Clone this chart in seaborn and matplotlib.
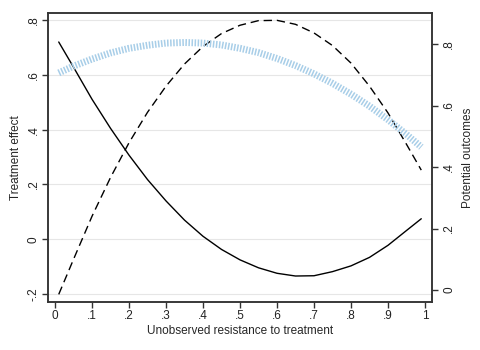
import matplotlib
matplotlib.use("Agg")
import matplotlib.pyplot as plt
import seaborn as sns
import pandas as pd

# Unobserved resistance to treatment (x)
u = [0.01, 0.05, 0.10, 0.15, 0.20, 0.25, 0.30, 0.35, 0.40, 0.45, 0.50,
     0.55, 0.60, 0.65, 0.70, 0.75, 0.80, 0.85, 0.90, 0.95, 0.99]

# Treatment effect (left axis, solid)
treatment_effect = [0.720, 0.628, 0.511, 0.405, 0.307, 0.218, 0.140, 0.070,
                    0.011, -0.037, -0.075, -0.104, -0.124, -0.134, -0.133,
                    -0.118, -0.097, -0.066, -0.022, 0.032, 0.075]

# Potential outcomes (right axis)
outcome_dashed = [-0.014, 0.100, 0.240, 0.366, 0.479, 0.578, 0.663, 0.735,
                  0.792, 0.834, 0.861, 0.876, 0.877, 0.864, 0.836, 0.795,
                  0.738, 0.663, 0.576, 0.474, 0.390]
outcome_blue = [0.706, 0.728, 0.751, 0.771, 0.786, 0.796, 0.803, 0.805, 0.803,
                0.797, 0.786, 0.772, 0.753, 0.730, 0.703, 0.672, 0.637, 0.598,
                0.554, 0.506, 0.465]

left_ticks = [-0.2, 0, 0.2, 0.4, 0.6, 0.8]
left_labels = ["-.2", "0", ".2", ".4", ".6", ".8"]
right_ticks = [0, 0.2, 0.4, 0.6, 0.8]
right_labels = ["0", ".2", ".4", ".6", ".8"]
x_ticks = [0, .1, .2, .3, .4, .5, .6, .7, .8, .9, 1]
x_labels = ["0", ".1", ".2", ".3", ".4", ".5", ".6", ".7", ".8", ".9", "1"]

sns.set_theme(style="white")
plt.rcParams["font.family"] = ["Liberation Sans", "DejaVu Sans"]

df = pd.DataFrame({"u": u, "te": treatment_effect,
                   "y_dash": outcome_dashed, "y_blue": outcome_blue})

fig = plt.figure(figsize=(4.8, 3.5), dpi=100)
ax = fig.add_axes([0.1, 0.137, 0.8, 0.826])
ax2 = ax.twinx()

sns.lineplot(data=df, x="u", y="te", ax=ax, color="black", lw=1.0)
sns.lineplot(data=df, x="u", y="y_dash", ax=ax2, color="black", lw=1.0,
             linestyle=(0, (6, 3.5)))
line_b = sns.lineplot(data=df, x="u", y="y_blue", ax=ax2, color="#a8cee8",
                      lw=5.0)
line_b.lines[-1].set_linestyle((0, (0.22, 0.22)))
line_b.lines[-1].set_dash_capstyle("butt")
for ln in ax.lines + ax2.lines:
    ln.set_solid_joinstyle("round")

ax.set_xlim(-0.019, 1.019)
ax.set_ylim(-0.229, 0.826)
ax2.set_ylim(-0.039, 0.901)

ax.set_xticks(x_ticks, x_labels)
ax.set_yticks(left_ticks, left_labels)
ax2.set_yticks(right_ticks, right_labels)

ax.grid(axis="y", color="#e6e6e6", lw=0.8)
ax.set_axisbelow(True)

ax.set_xlabel("Unobserved resistance to treatment", fontsize=8.5, labelpad=2)
ax.set_ylabel("Treatment effect", fontsize=8.5, labelpad=4)
ax2.set_ylabel("Potential outcomes", fontsize=8.5, labelpad=5)

for a in (ax, ax2):
    for s in a.spines.values():
        s.set_color("#333333")
        s.set_linewidth(1.1)
    a.tick_params(axis="both", which="both", length=4, width=1,
                  color="#333333", labelsize=8.5, pad=2, labelcolor="#222222")
    a.tick_params(axis="y", labelrotation=90)
    for t in a.get_yticklabels():
        t.set_va("center")

ax.tick_params(axis="x", bottom=True)
ax.tick_params(axis="y", left=True)
ax2.tick_params(axis="y", right=True, pad=4)

fig.savefig("out.png", dpi=100, facecolor="white")
